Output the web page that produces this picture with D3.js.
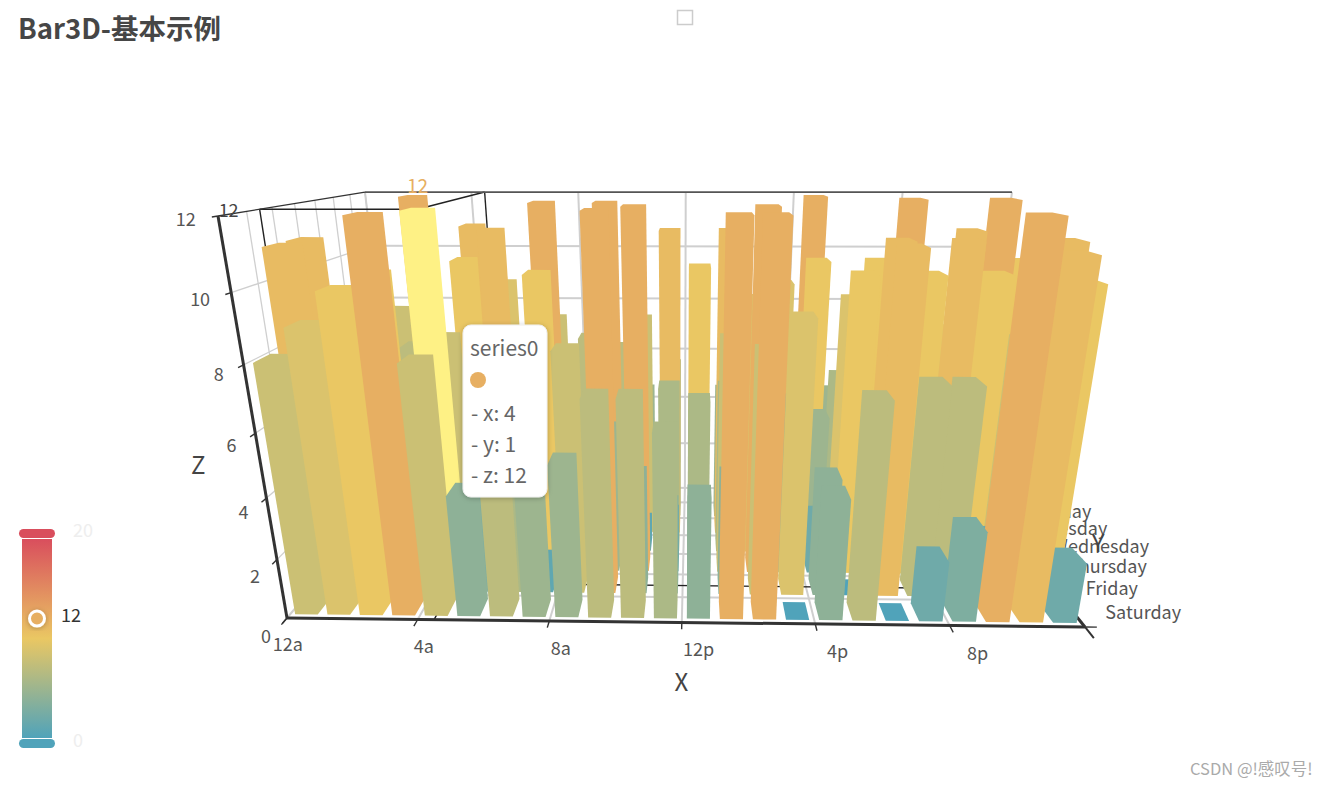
<!DOCTYPE html>
<html><head><meta charset="utf-8">
<script src="https://cdn.jsdelivr.net/npm/d3@7"></script>
<style>
html,body{margin:0;padding:0;background:#fff}
svg{display:block}
text{font-family:"Noto Sans CJK SC","Noto Sans",sans-serif}
</style></head><body>
<svg id="c" width="1328" height="787"></svg>
<script>
const hours=['12a','1a','2a','3a','4a','5a','6a','7a','8a','9a','10a','11a','12p','1p','2p','3p','4p','5p','6p','7p','8p','9p','10p','11p'];
const days=['Saturday','Friday','Thursday','Wednesday','Tuesday','Monday','Sunday'];
const dayLabels=['Saturday','Friday','Thursday','Wednesday','Tuesday','Monday'];
const saturdayValues=[8,9,10,12,8,4,7,5,5,7,7,6,4,12,12,0,4,7,0,2,3,12,11,2];
const fridayValues  =[11,6,5,7,12,3,6,1,8,12,4,3,3,4,8,9,4,0,11,7,7,2,5,10];
const thursdayValues=[11,4,10,5,8,7,6,10,5,5,12,2,6,8,12,6,2,10,11,10,11,10,8,11];
const wednesdayValues=[5,6,3,8,6,7,5,12,4,12,1,6,10,6,9,1,5,9,5,7,8,3,6,9];
const tuesdayValues =[6,4,7,5,10,11,6,8,3,7,8,11,4,11,7,1,10,6,10,12,7,11,12,10];
const mondayValues  =[5,8,12,6,11,9,3,6,7,4,5,6,3,5,6,9,12,5,4,5,6,7,8,5];
const seriesByDay=[saturdayValues,fridayValues,thursdayValues,wednesdayValues,tuesdayValues,mondayValues];
const zTicks=[0,2,4,6,8,10,12];
const xTickHours=['12a','4a','8a','12p','4p','8p'];
const hovered={hour:'4a',day:'Friday',value:12};
const visualDomain=[0,10,20], visualColors=['#50a3ba','#eac763','#d94e5d'];

const svg=d3.select('#c');
const color=d3.scaleLinear().domain(visualDomain).range(visualColors).interpolate(d3.interpolateRgb);
const xBand=d3.scaleBand().domain(hours).range([0,1]).paddingInner(.3).paddingOuter(.15);
const yBand=d3.scaleBand().domain(days).range([0,1]).paddingInner(.3).paddingOuter(.15);
const zS=d3.scaleLinear().domain([0,12]).range([0,1]);
const xPos=d3.scaleLinear().domain([0,24]).range([0,1]);
const yPos=d3.scaleLinear().domain([0,7]).range([0,1]);

// camera homography fitted to the reference frame
const C={a:[775.5,264,-101.7,287],b:[-3.98,52.8,-434.4,618],c:[-.0207,.381,-.15,1]};
function proj(X,Y,Z){
  const w=C.c[0]*X+C.c[1]*Y+C.c[2]*Z+C.c[3];
  return [(C.a[0]*X+C.a[1]*Y+C.a[2]*Z+C.a[3])/w,(C.b[0]*X+C.b[1]*Y+C.b[2]*Z+C.b[3])/w];
}
const P=(x,y,z)=>proj(xPos(x),yPos(y),zS(z));
const seg=(g,a,b,stroke,sw)=>g.append('line').attr('x1',a[0]).attr('y1',a[1]).attr('x2',b[0]).attr('y2',b[1]).attr('stroke',stroke).attr('stroke-width',sw).attr('stroke-linecap','butt');

const grid=svg.append('g');
const GC='#cfcfcf',GW=2;
// back wall, left wall and floor grid
zTicks.forEach(z=>{
  if(z>0 && z<12) seg(grid,P(0,7,z),P(24,7,z),GC,GW);
  if(z>0 && z<12) seg(grid,P(0,0,z),P(0,7,z),GC,1.3);
});
d3.range(0,25,4).forEach(x=>{
  seg(grid,P(x,7,0),P(x,7,12),GC,GW);
  seg(grid,P(x,0,0),P(x,7,0),GC,GW);
});
d3.range(0,8).forEach(y=>{
  seg(grid,P(0,y,0),P(0,y,12),GC,1.3);
  seg(grid,P(0,y,0),P(24,y,0),GC,GW);
});
// pointer lines of the hovered bar
const pg=svg.append('g');
const hx=hours.indexOf(hovered.hour)+.5, hy=days.indexOf(hovered.day)+.5, hz=hovered.value;
const PC='#222',PW=1.4;
[[[0,hy,hz],[hx,hy,hz]],[[hx,hy,hz],[hx,7,hz]],[[0,hy,hz],[0,hy,0]],[[hx,7,hz],[hx,7,0]],[[0,hy,0],[24,hy,0]],[[hx,0,0],[hx,7,0]]]
 .forEach(s=>seg(pg,P(...s[0]),P(...s[1]),PC,PW));
// axes
const ag=svg.append('g');
seg(ag,P(0,0,12),P(0,7,12),'#333',1.3);
seg(ag,P(0,7,12),P(24,7,12),'#555',1.8);
seg(ag,P(0,0,0),P(24,0,0),'#333',3);
seg(ag,P(0,0,0),P(0,0,12),'#333',3);
seg(ag,P(24,0,0),P(24,7,0),'#333',3);
zTicks.forEach(z=>seg(ag,P(0,0,z),P(0,-.2,z),'#333',1.4));
d3.range(0,24,4).forEach(x=>seg(ag,P(x,0,0),P(x,-.25,0),'#333',1.4));
seg(ag,P(24,0,0),P(24,-.4,0),'#333',2);
seg(ag,P(24,0,0),P(24.35,0,0),'#333',1.4);
// labels
const LS=18, LC='#555';
const labels=svg.append('g');
labels.selectAll('.z').data(zTicks).join('text').attr('class','z')
 .attr('x',d=>P(0,-.7,d)[0]).attr('y',d=>P(0,-.7,d)[1]).attr('dy','.35em').attr('text-anchor','end')
 .attr('font-size',LS).attr('fill',LC).text(d=>d);
labels.selectAll('.x').data(xTickHours).join('text').attr('class','x')
 .attr('x',d=>P(hours.indexOf(d)+.5,-.7,0)[0]).attr('y',d=>P(hours.indexOf(d)+.5,-.7,0)[1]+8).attr('dy','.35em').attr('text-anchor','middle')
 .attr('font-size',LS).attr('fill',LC).text(d=>d);
labels.selectAll('.y').data(dayLabels).join('text').attr('class','y')
 .attr('x',d=>P(24,days.indexOf(d)+.5,0)[0]+31).attr('y',d=>P(24,days.indexOf(d)+.5,0)[1]-1).attr('dy','.35em').attr('text-anchor','start')
 .attr('font-size',LS).attr('fill',LC).text(d=>d);
const nameC='#444';
const xn=P(12,-.7,0), zn=P(0,0,6), yn=P(24,3.5,0);
labels.append('text').attr('x',xn[0]).attr('y',xn[1]+41).attr('text-anchor','middle').attr('dy','.35em').attr('font-size',24).attr('fill',nameC).text('X');
labels.append('text').attr('x',zn[0]-57).attr('y',zn[1]+32).attr('text-anchor','middle').attr('dy','.35em').attr('font-size',24).attr('fill',nameC).text('Z');

// bars
const bars=[];
seriesByDay.forEach((vals,r)=>vals.forEach((v,i)=>bars.push({hour:hours[i],i,day:days[r],r,v})));
bars.sort((a,b)=>d3.descending(a.r,b.r)||d3.descending(Math.abs(a.i-11.5),Math.abs(b.i-11.5)));
function hull(d){
  const x0=xBand(d.hour),x1=x0+xBand.bandwidth(),y0=yBand(d.day),y1=y0+yBand.bandwidth(),z=zS(d.v);
  const pts=[];
  [x0,x1].forEach(X=>[y0,y1].forEach(Y=>[0,z].forEach(Z=>pts.push(proj(X,Y,Z)))));
  return d3.polygonHull(pts);
}
svg.append('g').selectAll('path').data(bars).join('path')
 .attr('d',d=>'M'+hull(d).join('L')+'Z')
 .attr('fill',d=>(d.hour===hovered.hour&&d.day===hovered.day)?'#fef185':color(d.v));
svg.append('text').attr('x',yn[0]+77).attr('y',yn[1]-4).attr('text-anchor','middle').attr('dy','.35em').attr('font-size',24).attr('fill',nameC).text('Y');
// emphasis label + pointer label
const topPt=P(hx,hy,hz);
svg.append('text').attr('x',topPt[0]).attr('y',topPt[1]-23).attr('dy','.35em').attr('text-anchor','middle').attr('font-size',19).attr('fill',color(hz)).text(hz);
const pl=P(0,hy,hz);
svg.append('text').attr('x',pl[0]-31).attr('y',pl[1]+1).attr('dy','.35em').attr('text-anchor','middle').attr('font-size',18).attr('fill','#444').text(hz);

// tooltip
const defs=svg.append('defs');
const shadow=defs.append('filter').attr('id','sh').attr('x','-30%').attr('y','-30%').attr('width','160%').attr('height','160%');
shadow.append('feDropShadow').attr('dx',0).attr('dy',1).attr('stdDeviation',2.5).attr('flood-color','#000').attr('flood-opacity',.25);
const tip=svg.append('g').attr('transform','translate(463,325)');
tip.append('rect').attr('width',84).attr('height',172).attr('rx',8).attr('fill','#fff').attr('stroke','#eee').attr('filter','url(#sh)');
tip.append('text').attr('x',7).attr('y',24).attr('dy','.35em').attr('font-size',21).attr('fill','#666').text('series0');
tip.append('circle').attr('cx',15).attr('cy',55).attr('r',8).attr('fill',color(hz));
[['- x: ',hours.indexOf(hovered.hour)],['- y: ',days.indexOf(hovered.day)],['- z: ',hz]].forEach((d,i)=>
  tip.append('text').attr('x',8).attr('y',89+i*31).attr('dy','.35em').attr('font-size',21).attr('fill','#666').text(d[0]+d[1]));

// visual map
const legendY=d3.scaleLinear().domain([0,20]).range([738,539]);
const grad=defs.append('linearGradient').attr('id','vm').attr('x1',0).attr('y1',1).attr('x2',0).attr('y2',0);
visualDomain.forEach((v,i)=>grad.append('stop').attr('offset',v/20).attr('stop-color',visualColors[i]));
const vm=svg.append('g');
vm.append('rect').attr('x',22).attr('width',30).attr('y',legendY(20)).attr('height',legendY(0)-legendY(20)).attr('fill','url(#vm)');
vm.append('rect').attr('x',19).attr('width',36).attr('y',legendY(20)-10).attr('height',9).attr('rx',4.5).attr('fill',color(20));
vm.append('rect').attr('x',19).attr('width',36).attr('y',legendY(0)+1).attr('height',9).attr('rx',4.5).attr('fill',color(0));
vm.append('circle').attr('cx',37).attr('cy',legendY(hz)).attr('r',7.5).attr('fill',color(hz)).attr('stroke','#fff').attr('stroke-width',3).attr('filter','url(#sh)');
vm.append('text').attr('x',73).attr('y',legendY(20)-8).attr('dy','.35em').attr('font-size',18).attr('fill','#eee').text(20);
vm.append('text').attr('x',73).attr('y',legendY(0)+3).attr('dy','.35em').attr('font-size',18).attr('fill','#eee').text(0);
vm.append('text').attr('x',61).attr('y',legendY(hz)-3).attr('dy','.35em').attr('font-size',18).attr('fill','#333').text(hz);

// title, legend glyph, watermark
svg.append('text').attr('x',18).attr('y',39).attr('font-size',27.5).attr('font-weight',700).attr('fill','#464646').text('Bar3D-基本示例');
svg.append('rect').attr('x',677.5).attr('y',10.5).attr('width',15).attr('height',14).attr('fill','#fff').attr('stroke','#ccc').attr('stroke-width',1.5);
svg.append('text').attr('x',1190).attr('y',775).attr('font-size',16.5).attr('fill','#aaa').text('CSDN @!感叹号!');
</script></body></html>
